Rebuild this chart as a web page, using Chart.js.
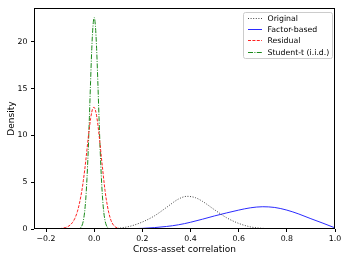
<!DOCTYPE html>
<html>
<head>
<meta charset="utf-8">
<script src="https://cdn.jsdelivr.net/npm/chart.js@4.4.1/dist/chart.umd.min.js"></script>
<style>
  html, body { margin: 0; padding: 0; background: #fff; }
  #wrap { width: 349px; height: 262px; position: relative; }
</style>
</head>
<body>
<div id="wrap"><canvas id="kde"></canvas></div>
<script>
// ─── DATOS ──────────────────────────────────────────────────────────────────
const origX = [0.0, 0.05, 0.1, 0.15, 0.2, 0.25, 0.3, 0.35, 0.385, 0.42, 0.45, 0.5, 0.55, 0.6, 0.65, 0.7, 0.75, 0.8];
const origY = [0, 0.01, 0.08, 0.3, 0.75, 1.4, 2.3, 3.2, 3.49, 3.35, 2.95, 2.05, 1.2, 0.6, 0.22, 0.07, 0.02, 0];

const factorX = [0.0, 0.1, 0.15, 0.2, 0.25, 0.3, 0.35, 0.4, 0.45, 0.5, 0.55, 0.6, 0.65, 0.7, 0.75, 0.8, 0.85, 0.9, 0.95, 1.0];
const factorY = [0, 0.01, 0.03, 0.07, 0.15, 0.27, 0.45, 0.72, 1.05, 1.4, 1.72, 2.02, 2.27, 2.38, 2.3, 2.02, 1.6, 1.1, 0.62, 0.12];

const residX = [-0.2, -0.16, -0.14, -0.12, -0.11, -0.1, -0.09, -0.08, -0.07, -0.06, -0.05, -0.045, -0.04, -0.035, -0.03,
  -0.025, -0.02, -0.015, -0.01, -0.005, 0, 0.005, 0.01, 0.015, 0.02, 0.025, 0.03, 0.035, 0.04, 0.045, 0.05,
  0.06, 0.07, 0.08, 0.09, 0.1, 0.12, 0.15];
const residY = [0, 0.02, 0.05, 0.15, 0.25, 0.42, 0.7, 1.15, 1.85, 2.9, 4.3, 5.2, 6.2, 7.3, 8.5,
  9.7, 10.8, 11.8, 12.5, 12.95, 13.0, 12.7, 12.1, 11.2, 10.1, 8.9, 7.6, 6.4, 5.2, 4.1, 3.2,
  1.8, 0.9, 0.42, 0.18, 0.07, 0.01, 0];

const studX = [-0.12, -0.1, -0.07, -0.06, -0.055, -0.05, -0.045, -0.04, -0.035, -0.03, -0.025, -0.02, -0.015, -0.01, -0.005,
  0, 0.005, 0.01, 0.015, 0.02, 0.025, 0.03, 0.035, 0.04, 0.045, 0.05, 0.055, 0.06, 0.07, 0.1, 0.12];
const studY = [0, 0, 0.02, 0.07, 0.18, 0.42, 0.9, 1.76, 3.2, 5.4, 8.3, 11.9, 15.8, 19.3, 21.7,
  22.6, 21.7, 19.3, 15.8, 11.9, 8.3, 5.4, 3.2, 1.76, 0.9, 0.42, 0.18, 0.07, 0.02, 0, 0];

const xTicks = [-0.2, 0.0, 0.2, 0.4, 0.6, 0.8, 1.0];
const yTicks = [0, 5, 10, 15, 20];

const FONT = 'DejaVu Sans';

function toPoints(xs, ys) {
  return xs.map((x, i) => ({ x, y: ys[i] }));
}

// ─── LEYENDA DENTRO DEL ÁREA + MARCO ────────────────────────────────────────
const boxAndLegend = {
  id: 'boxAndLegend',
  afterDraw(chart) {
    const { ctx, chartArea: a } = chart;
    ctx.save();
    // marco completo (4 lados)
    ctx.strokeStyle = '#000';
    ctx.lineWidth = 1;
    ctx.setLineDash([]);
    ctx.strokeRect(Math.round(a.left) + 0.5, Math.round(a.top) + 0.5,
      Math.round(a.right - a.left) - 1, Math.round(a.bottom - a.top) - 1);

    // caja de leyenda
    const bx = 243.5, by = 12.5, bw = 89, bh = 46;
    ctx.fillStyle = 'rgba(255,255,255,0.85)';
    ctx.strokeStyle = '#cccccc';
    ctx.beginPath();
    ctx.roundRect(bx, by, bw, bh, 2);
    ctx.fill();
    ctx.stroke();

    ctx.font = '7.8px "' + FONT + '"';
    ctx.textBaseline = 'middle';
    ctx.textAlign = 'left';
    chart.data.datasets.forEach((ds, i) => {
      const y = Math.round(by + 5.5 + i * 11.2) + 0.5;
      ctx.strokeStyle = ds.borderColor;
      ctx.lineWidth = ds.borderWidth;
      ctx.setLineDash(ds.borderDash || []);
      ctx.beginPath();
      ctx.moveTo(248, y);
      ctx.lineTo(262, y);
      ctx.stroke();
      ctx.setLineDash([]);
      ctx.fillStyle = '#000';
      ctx.fillText(ds.label, 267.5, y);
    });
    ctx.restore();
  }
};

function initChart() {
  const ctx = document.getElementById('kde').getContext('2d');

  new Chart(ctx, {
    type: 'line',
    data: {
      datasets: [
        { label: 'Original', data: toPoints(origX, origY), borderColor: '#444444', borderWidth: 1, borderDash: [1, 1.6] },
        { label: 'Factor-based', data: toPoints(factorX, factorY), borderColor: '#2b2bff', borderWidth: 1 },
        { label: 'Residual', data: toPoints(residX, residY), borderColor: '#ff2020', borderWidth: 1, borderDash: [3, 1.4] },
        { label: 'Student-t (i.i.d.)', data: toPoints(studX, studY), borderColor: '#1a8a1a', borderWidth: 1, borderDash: [5, 1.4, 1, 1.4] }
      ]
    },
    options: {
      responsive: true,
      maintainAspectRatio: false,
      animation: false,
      elements: {
        point: { radius: 0 },
        line: { cubicInterpolationMode: 'monotone', fill: false }
      },
      layout: { padding: { top: 8, right: 14, left: 0, bottom: 0 } },
      plugins: {
        legend: { display: false },
        tooltip: { enabled: false }
      },
      scales: {
        x: {
          type: 'linear',
          min: -0.25,
          max: 1.0,
          afterBuildTicks: s => { s.ticks = xTicks.map(v => ({ value: v })); },
          afterFit: s => { s.height = 33; },
          border: { display: false },
          grid: { drawOnChartArea: false, color: '#000', tickLength: 3 },
          ticks: {
            padding: 2,
            color: '#000',
            font: { family: FONT, size: 7.8 },
            maxRotation: 0,
            callback: v => v.toFixed(1).replace('-', '\u2212')
          },
          title: {
            display: true,
            text: 'Cross-asset correlation',
            color: '#000',
            font: { family: FONT, size: 9 },
            padding: { top: 0, bottom: 7 }
          }
        },
        y: {
          min: 0,
          max: 23.6,
          afterBuildTicks: s => { s.ticks = yTicks.map(v => ({ value: v })); },
          afterFit: s => { s.width = 34; },
          border: { display: false },
          grid: { drawOnChartArea: false, color: '#000', tickLength: 3 },
          ticks: {
            padding: 3.5,
            color: '#000',
            font: { family: FONT, size: 7.8 },
            callback: v => String(v)
          },
          title: {
            display: true,
            text: 'Density',
            color: '#000',
            font: { family: FONT, size: 9 },
            padding: { top: 6, bottom: 0 }
          }
        }
      }
    },
    plugins: [boxAndLegend]
  });
}

document.addEventListener('DOMContentLoaded', initChart);
</script>
</body>
</html>
